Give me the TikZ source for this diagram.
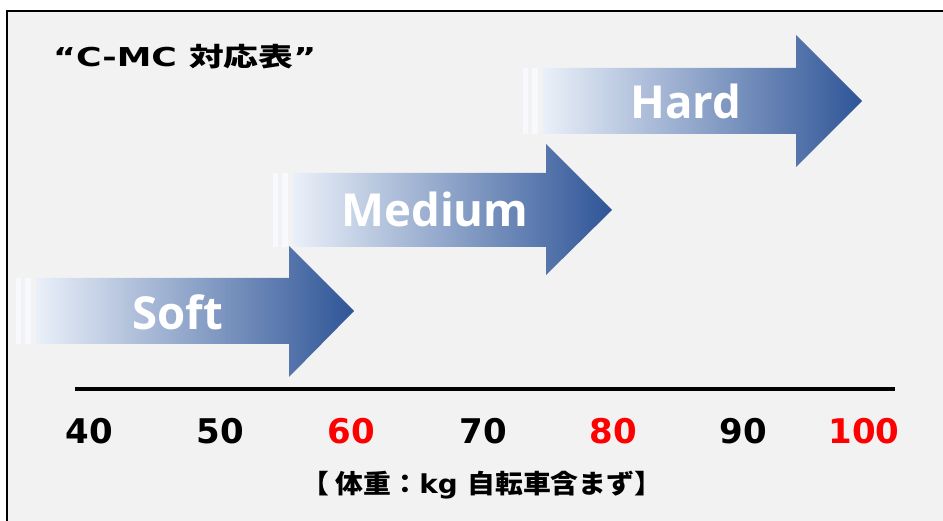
\documentclass[tikz,border=0pt]{standalone}
\usepackage{fontspec}
\usepackage{graphicx}
\newfontfamily\lat{DejaVu Sans}
\newfontfamily\arw{Open Sans}
\newfontfamily\cjk{Noto Sans CJK JP}
\definecolor{bg}{HTML}{F2F2F2}
\definecolor{stripecol}{HTML}{F7F9FD}
\definecolor{arlight}{HTML}{EAF0F9}
\definecolor{armid}{HTML}{9DB2DB}
\definecolor{ardark}{HTML}{2F5597}
\definecolor{redlbl}{HTML}{FF0000}
\tikzset{
  stripe/.style={fill=stripecol},
  arrowshade/.style={left color=arlight, middle color=armid, right color=ardark},
  lbl/.style={inner sep=0pt, text=white, font=\arw\bfseries\fontsize{45.5}{46}\selectfont, anchor=base},
  num/.style={inner sep=0pt, font=\lat\bfseries\fontsize{34}{34}\selectfont, anchor=base},
  rednum/.style={num, text=redlbl},
}
% x0 yt yb hx ht hb tx ty
\newcommand\grarrow[8]{%
  \fill[stripe] (#1,#2) rectangle (#1+5,#3);
  \fill[stripe] (#1+9,#2) rectangle (#1+15,#3);
  \shade[arrowshade] (#1+20,#2) -- (#4,#2) -- (#4,#5) -- (#7,#8) -- (#4,#6) -- (#4,#3) -- (#1+20,#3) -- cycle;
}
\begin{document}
\begin{tikzpicture}[x=1pt,y=-1pt]
\useasboundingbox (0,0) rectangle (943,521);
\fill[bg] (7,11) rectangle (950,530);
\draw[line width=2.5pt] (7,540) -- (7,11) -- (960,11);
% title
\node[inner sep=0pt, anchor=base west] (title) at (53,66.5)
  {\resizebox{263pt}{\height}{\fontsize{26}{26}\selectfont\bfseries\lat “C-MC \cjk 対応表\lat ”}};
% arrows
\grarrow{16}{278}{344}{289}{246}{377}{354}{311}
\grarrow{273}{173}{247}{546}{144}{275}{612}{210}
\grarrow{523}{68}{134}{796}{35}{167}{862}{101}
\node[lbl] (soft) at (178,330) {Soft};
\node[lbl] (medium) at (435,227) {Medium};
\node[lbl] (hard) at (686,119) {Hard};
% axis
\coordinate (axl) at (75,389);
\coordinate (axr) at (895,389);
\draw[line width=4pt] (axl) -- (axr);
\node[num] (n40) at (89,443) {40};
\node[num] (n50) at (220,443) {50};
\node[rednum] (n60) at (351,443) {60};
\node[num] (n70) at (483,443) {70};
\node[rednum] (n80) at (613,443) {80};
\node[num] (n90) at (743,443) {90};
\node[rednum] (n100) at (864,443) {100};
\node[inner sep=0pt, anchor=base] (unit) at (482,493)
  {\scalebox{1.07}[1]{\fontsize{26}{26}\selectfont\bfseries\cjk 【 体重：\lat kg \cjk 自転車含まず】}};
\end{tikzpicture}
\end{document}
